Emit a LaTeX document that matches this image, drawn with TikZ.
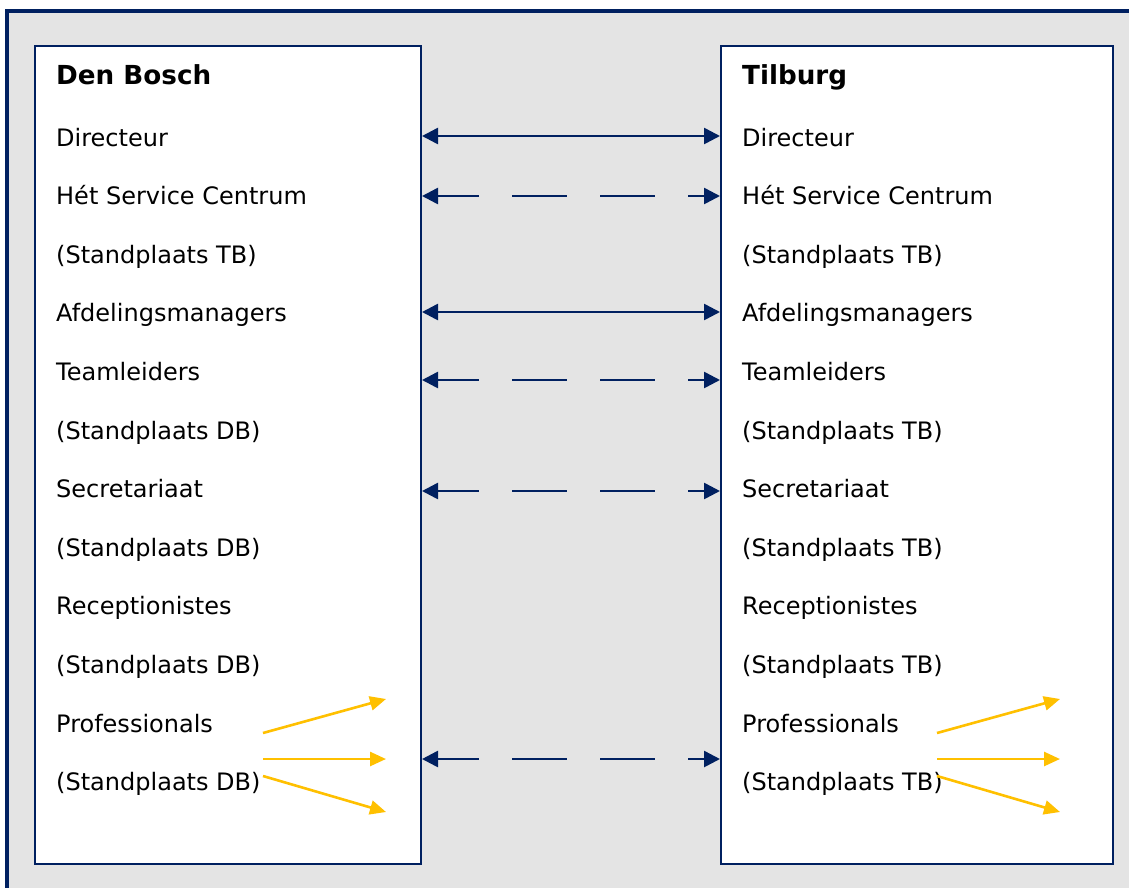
\documentclass[tikz,border=0pt]{standalone}
\usepackage{fontspec}
\setmainfont{DejaVu Sans}
\usetikzlibrary{arrows.meta}
\definecolor{navy}{HTML}{002060}
\definecolor{frame}{HTML}{E4E4E4}
\definecolor{gold}{HTML}{FFC000}
\begin{document}
\begin{tikzpicture}[x=1pt, y=-1pt,
    box/.style={rectangle, draw=navy, line width=2pt, fill=white, inner sep=0pt},
    label/.style={anchor=base west, inner sep=0pt, font=\fontsize{24}{28}\selectfont},
    head/.style={anchor=base west, inner sep=0pt, font=\fontsize{26.2}{30}\selectfont\bfseries},
    link/.style={draw=navy, line width=2.6pt, {Triangle[length=16pt,width=16pt]}-{Triangle[length=16pt,width=16pt]}},
    loose/.style={link, dash pattern=on 55pt off 33pt, dash phase=13pt},
    spread/.style={draw=gold, line width=2.6pt, -{Triangle[length=16pt,width=14pt]}}]
  \useasboundingbox (0,0) rectangle (1129,887);
  \clip (0,0) rectangle (1129,887);
  \fill[white] (0,0) rectangle (1129,887);
  \draw[navy, fill=frame, line width=3.5pt] (7,11) rectangle (1150,910);

  \node (lbox) [box, minimum width=386, minimum height=818] at (228,455) {};
  \node (rbox) [box, minimum width=392, minimum height=818] at (917,455) {};

  \node (lhead) [head] at (56,84) {Den Bosch};
  \node (rhead) [head] at (742,84) {Tilburg};

  \foreach \txt [count=\i] in {Directeur, H\'et Service Centrum, (Standplaats TB),
      Afdelingsmanagers, Teamleiders, (Standplaats DB), Secretariaat, (Standplaats DB),
      Receptionistes, (Standplaats DB), Professionals, (Standplaats DB)}
    \node (l\i) [label] at (56,{146+(\i-1)*58.6}) {\txt};
  \foreach \txt [count=\i] in {Directeur, H\'et Service Centrum, (Standplaats TB),
      Afdelingsmanagers, Teamleiders, (Standplaats TB), Secretariaat, (Standplaats TB),
      Receptionistes, (Standplaats TB), Professionals, (Standplaats TB)}
    \node (r\i) [label] at (742,{146+(\i-1)*58.6}) {\txt};

  % end points on the box edges
  \foreach \y [count=\i] in {136,196,312,380,491,759} {
    \coordinate (le\i) at (lbox.east |- 0,\y);
    \coordinate (re\i) at (rbox.west |- 0,\y);
  }
  \draw[link] (le1) -- (re1);
  \draw[loose] (le2) -- (re2);
  \draw[link] (le3) -- (re3);
  \draw[loose] (le4) -- (re4);
  \draw[loose] (le5) -- (re5);
  \draw[loose] (le6) -- (re6);

  % professionals spread out
  \foreach \side/\x in {l/263, r/937} {
    \coordinate (\side a) at (\x,733);
    \coordinate (\side b) at (\x,759);
    \coordinate (\side c) at (\x,776);
    \coordinate (\side A) at (\x+123,699);
    \coordinate (\side B) at (\x+123,759);
    \coordinate (\side C) at (\x+123,812);
    \draw[spread] (\side a) -- (\side A);
    \draw[spread] (\side b) -- (\side B);
    \draw[spread] (\side c) -- (\side C);
  }
\end{tikzpicture}
\end{document}
